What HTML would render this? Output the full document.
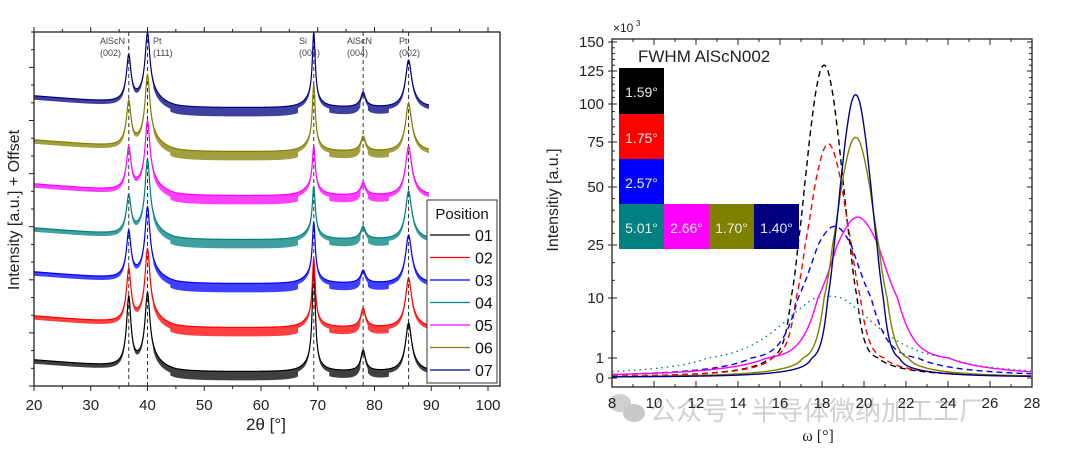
<!DOCTYPE html>
<html><head><meta charset="utf-8">
<style>
html,body{margin:0;padding:0;background:#fff;}
svg{display:block;font-family:"Liberation Sans",sans-serif;}
</style></head>
<body>
<svg id="root" width="1080" height="453" viewBox="0 0 1080 453" xmlns="http://www.w3.org/2000/svg">
<g id="left"></g>
<g id="right"></g>
</svg>
<script>
// ---------- LEFT CHART DATA ----------
const traceNames = ["01","02","03","04","05","06","07"];
const traceColors = ["#000000","#ff0000","#0000ff","#008080","#ff00ff","#808000","#000080"];
const traceOffsets = [14, 58, 102, 146, 190, 234, 278];
const peakCenters = [36.7, 40.0, 69.3, 78.0, 86.0];
const peakLabels = [["AlScN","(002)"],["Pt","(111)"],["Si","(004)"],["AlScN","(004)"],["Pt","(002)"]];
const peakH_01 = [62, 62, 100, 18, 40];
const peakH_02 = [46, 62, 60, 16, 41];
const peakH_03 = [40, 60, 52, 10, 40];
const peakH_04 = [32, 64, 44, 10, 40];
const peakH_05 = [36, 58, 40, 10, 41];
const peakH_06 = [38, 60, 58, 12, 40];
const peakH_07 = [40, 58, 66, 12, 39];
const peakHeights = [peakH_01,peakH_02,peakH_03,peakH_04,peakH_05,peakH_06,peakH_07];
const peakWidths = [0.45, 0.5, 0.3, 0.45, 0.6];
const xTicksL = [20,30,40,50,60,70,80,90,100];

// ---------- RIGHT CHART DATA ----------
const rcNames = ["01","02","03","04","05","06","07"];
const rcColors = ["#000000","#ff0000","#0000ff","#008080","#ff00ff","#808000","#000080"];
const rcDash = ["6,4","6,4","6,4","1.5,4","","",""];
const rcPeak = [130, 74, 33, 10.5, 37, 78, 107];
const rcCenter = [18.1, 18.3, 18.6, 18.3, 19.7, 19.6, 19.6];
const rcFwhm = [1.59, 1.75, 2.57, 5.01, 2.66, 1.70, 1.40];
const rcEta = [0.08, 0.12, 0.3, 0.5, 0.3, 0.1, 0.07];
const rcLabels = ["1.59°","1.75°","2.57°","5.01°","2.66°","1.70°","1.40°"];
const yTickVals = [0,1,10,25,50,75,100,125,150];
const xTicksR = [8,10,12,14,16,18,20,22,24,26,28];

const NS="http://www.w3.org/2000/svg";
function mk(parent, tag, attrs, text){
  const e=document.createElementNS(NS,tag);
  for(const k in attrs) e.setAttribute(k,attrs[k]);
  if(text!==undefined) e.textContent=text;
  parent.appendChild(e); return e;
}
const L=document.getElementById('left'), R=document.getElementById('right');

// ---- left axes
const lx0=34,lx1=500,ly0=32,ly1=386;
const xL = v => 34 + (v-20)*(454/80);
const yL = v => ly1 - v;
function lor(x,c,g){return 1/(1+((x-c)/g)**2);}
function profile(i,x){
  let v=traceOffsets[i];
  if(x<45) v += 12*(45-x)/25;
  v += 14*lor(x,40.3,2.2) + 10*lor(x,69.0,1.6) + 9*lor(x,86.3,1.6) + 3*lor(x,78,1.2) + 5*lor(x,36.5,1.0);
  const h=peakHeights[i];
  for(let p=0;p<peakCenters.length;p++) v += h[p]*lor(x,peakCenters[p],peakWidths[p]);
  return v;
}
peakCenters.forEach((c,p)=>{
  const l=mk(L,'line',{x1:xL(c),x2:xL(c),y1:ly0,y2:ly1,stroke:'#333','stroke-width':1,'stroke-dasharray':'4,3'});
  
  
});
for(let i=0;i<traceNames.length;i++){
  let top='',bot=[];
  for(let x=20;x<=89.6;x+=0.05){
    const v=profile(i,x);
    let nd = 4;
    if(x>44 && x<66.5) nd=9; else if((x>72&&x<77.5)||(x>78.8&&x<82.5)) nd=8; else if(x>41&&x<44) nd=6;
    top += (top?'L':'M')+xL(x).toFixed(2)+','+yL(v).toFixed(2);
    bot.push(xL(x).toFixed(2)+','+yL(v-nd).toFixed(2));
  }
  const band=mk(L,'path',{d:top+'L'+bot.reverse().join('L')+'Z',fill:traceColors[i],'fill-opacity':0.75,stroke:'none'});
  
  
  const ln=mk(L,'path',{d:top,fill:'none',stroke:traceColors[i],'stroke-width':1.2});
  
  
}
const labelX=[100,153,299,347,399];
peakLabels.forEach((pl,p)=>{
  const t=mk(L,'text',{x:labelX[p],y:44,'font-size':9,fill:'#444'},pl[0]);
  
  
  const t2=mk(L,'text',{x:labelX[p],y:56,'font-size':9,fill:'#444'},pl[1]);
  
  
});
const fr=mk(L,'rect',{x:lx0,y:ly0,width:lx1-lx0,height:ly1-ly0,fill:'none',stroke:'#222','stroke-width':1.3});


for(let v=20;v<=100;v+=5){
  const maj=v%10===0;
  mk(L,'line',{x1:xL(v),x2:xL(v),y1:ly1,y2:ly1+(maj?5:3),stroke:'#222'});
  mk(L,'line',{x1:xL(v),x2:xL(v),y1:ly0,y2:ly0-(maj?5:3),stroke:'#222'});
}
xTicksL.forEach(v=>{
  const t=mk(L,'text',{x:xL(v),y:410,'font-size':15,'text-anchor':'middle',fill:'#222'},String(v));
  
  
});
for(let k=0;k<=20;k++){
  const y=ly1-k*17.7; if(y<ly0) break;
  mk(L,'line',{x1:lx0-(k%3===0?5:3),x2:lx0,y1:y,y2:y,stroke:'#222'});
}
let t=mk(L,'text',{x:266,y:430,'font-size':17,'text-anchor':'middle',fill:'#222'},'2θ [°]');
 
t=mk(L,'text',{x:0,y:0,'font-size':16,'text-anchor':'middle',fill:'#222',transform:'translate(19,210) rotate(-90)'},'Intensity [a.u.] + Offset');
 
const lg=mk(L,'g',{});
 
mk(lg,'rect',{x:427,y:200,width:70,height:183,fill:'#fff',stroke:'#333','stroke-width':1});
mk(lg,'text',{x:462,y:219,'font-size':15,'text-anchor':'middle',fill:'#111'},'Position');
traceNames.forEach((n,i)=>{
  const yy=235+i*22.5;
  const g=mk(lg,'g',{});
  
  
  mk(g,'line',{x1:430,x2:470,y1:yy,y2:yy,stroke:traceColors[i],'stroke-width':1.2});
  mk(g,'text',{x:475,y:yy+6,'font-size':16,fill:'#111'},n);
});

// ---- right chart
const rx0=612,rx1=1032,ry0=39,ry1=387;
const xR = v => rx0 + (v-8)*21;
const yTickPix = [378,358,298,245,187,142,104,71,42];
function yR(v){
  if(v<=0) return 378 + (-v)*20;
  for(let k=1;k<yTickVals.length;k++){
    if(v<=yTickVals[k]){
      const a=yTickVals[k-1],b=yTickVals[k];
      return yTickPix[k-1]+(v-a)/(b-a)*(yTickPix[k]-yTickPix[k-1]);
    }
  }
  return 42;
}
const wm=mk(R,'g',{opacity:0.45});
 
mk(wm,'ellipse',{cx:620,cy:403,rx:11,ry:9,fill:'#999'});
mk(wm,'ellipse',{cx:634,cy:413,rx:11,ry:9,fill:'#888'});
mk(wm,'text',{x:650,y:420,'font-size':26,fill:'#999','font-family':'"Liberation Sans","Noto Sans CJK SC",sans-serif'},'公众号 · 半导体微纳加工工厂');
for(let i=0;i<rcNames.length;i++){
  let d='';
  const s=rcFwhm[i]/2.3548, g=rcFwhm[i]/2;
  for(let x=8;x<=28;x+=0.05){
    const dx=x-rcCenter[i];
    const f=(1-rcEta[i])*Math.exp(-0.5*(dx/s)**2)+rcEta[i]/(1+(dx/g)**2);
    const v=rcPeak[i]*f+0.03;
    d+=(d?'L':'M')+xR(x).toFixed(2)+','+yR(v).toFixed(2);
  }
  const p=mk(R,'path',{d:d,fill:'none',stroke:rcColors[i],'stroke-width':1.4});
  if(rcDash[i]) p.setAttribute('stroke-dasharray',rcDash[i]);
  
  
}
const fr2=mk(R,'rect',{x:rx0,y:ry0,width:rx1-rx0,height:ry1-ry0,fill:'none',stroke:'#222','stroke-width':1.3});
 
for(let v=8;v<=28;v++){
  const maj=v%2===0;
  mk(R,'line',{x1:xR(v),x2:xR(v),y1:ry1,y2:ry1-(maj?6:3),stroke:'#222'});
  mk(R,'line',{x1:xR(v),x2:xR(v),y1:ry0,y2:ry0+(maj?6:3),stroke:'#222'});
}
xTicksR.forEach(v=>{
  const t=mk(R,'text',{x:xR(v),y:408,'font-size':15,'text-anchor':'middle',fill:'#222'},String(v));
   
});
yTickVals.forEach(v=>{
  const y=yR(v);
  mk(R,'line',{x1:rx0-4,x2:rx0+5,y1:y,y2:y,stroke:'#222'});
  mk(R,'line',{x1:rx1-5,x2:rx1,y1:y,y2:y,stroke:'#222'});
  const t=mk(R,'text',{x:rx0-8,y:y+5,'font-size':15,'text-anchor':'end',fill:'#222'},String(v));
   
});
for(let v=5;v<150;v+=5){ if(yTickVals.includes(v)) continue; const y=yR(v);
  mk(R,'line',{x1:rx0,x2:rx0+3,y1:y,y2:y,stroke:'#222'}); mk(R,'line',{x1:rx1-3,x2:rx1,y1:y,y2:y,stroke:'#222'});}
t=mk(R,'text',{x:613,y:32,'font-size':12,fill:'#222'},'×10');
 
mk(R,'text',{x:636,y:26,'font-size':8,fill:'#222'},'3');
t=mk(R,'text',{x:638,y:62,'font-size':17,fill:'#222'},'FWHM AlScN002');
 
t=mk(R,'text',{x:0,y:0,'font-size':16,'text-anchor':'middle',fill:'#222',transform:'translate(558,200) rotate(-90)'},'Intensitiy [a.u.]');
 
t=mk(R,'text',{x:818,y:441,'font-size':16,'text-anchor':'middle',fill:'#222','font-family':'"Liberation Serif",serif'},'ω [°]');
 
const cellPos=[[619,68],[619,114],[619,159],[619,204],[664,204],[709,204],[754,204]];
rcLabels.forEach((lab,i)=>{
  const g=mk(R,'g',{});
  
  
  mk(g,'rect',{x:cellPos[i][0],y:cellPos[i][1],width:45,height:i===0?46:45,fill:rcColors[i]});
  mk(g,'text',{x:cellPos[i][0]+22.5,y:cellPos[i][1]+29,'font-size':14,'text-anchor':'middle',fill:'#e8e8e8'},lab);
});
</script>
</body></html>
